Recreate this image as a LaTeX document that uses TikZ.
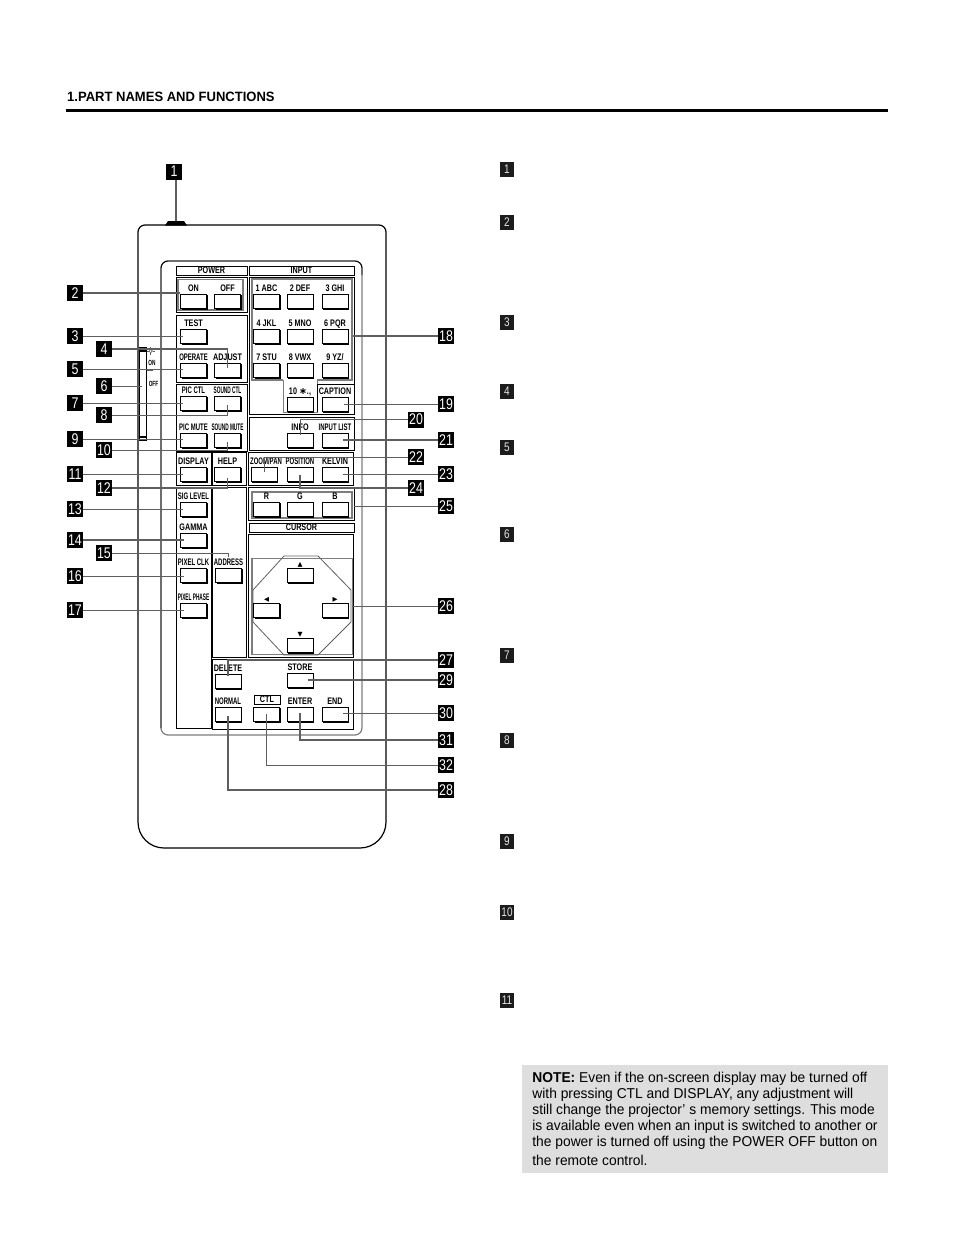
\documentclass[tikz,border=0pt]{standalone}
\usepackage{fontspec}
\setmainfont{Liberation Sans}
\usepackage{tikz}
\usetikzlibrary{shadows, calc}
\usepackage{xcolor}
\definecolor{leadgray}{RGB}{95, 95, 95}
\definecolor{framegray}{RGB}{125, 125, 125}
\definecolor{notegray}{RGB}{222, 222, 222}
\definecolor{markdark}{RGB}{28, 28, 28}
\newfontfamily\keywide[FakeStretch=0.76]{Liberation Sans}
\newfontfamily\keymedium[FakeStretch=0.63]{Liberation Sans}
\newfontfamily\keythin[FakeStretch=0.5]{Liberation Sans}
\newfontfamily\markfont[FakeStretch=0.8]{Liberation Sans}
\newfontfamily\notefont[FakeStretch=0.965]{Liberation Sans}
\newfontfamily\symfont{DejaVu Sans}

\begin{document}
\begin{tikzpicture}[
    x=1pt, y=-1pt,
    panel/.style={rectangle, draw=black, line width=0.9pt, inner sep=0pt},
    titlebox/.style={panel, line width=0.8pt, font=\keywide\bfseries\fontsize{9.5}{9.5}\selectfont},
    key/.style={rectangle, draw=black, fill=white, line width=0.9pt, minimum width=26pt, minimum height=14.5pt, inner sep=0pt,
        general shadow={fill=black, shadow xshift=1.1pt, shadow yshift=-1.1pt}},
    keytext/.style={inner sep=0pt, yshift=2.5pt, text height=7pt, text depth=0pt, font=\keywide\bfseries\fontsize{9.5}{9.5}\selectfont},
    keymid/.style={keytext, font=\keymedium\bfseries\fontsize{9.5}{9.5}\selectfont},
    keynarrow/.style={keytext, font=\keythin\bfseries\fontsize{9.5}{9.5}\selectfont},
    keysym/.style={inner sep=0pt, font=\symfont\fontsize{6.5}{6.5}\selectfont},
    callout/.style={rectangle, fill=black, text=white, minimum width=16pt, minimum height=16pt, inner sep=0pt, font=\markfont\fontsize{15.5}{15.5}\selectfont},
    sidemark/.style={rectangle, fill=markdark, text=white!90!black, minimum width=14.5pt, minimum height=14.5pt, inner sep=0pt, font=\markfont\fontsize{12.5}{12.5}\selectfont},
    lead/.style={draw=leadgray, line width=0.9pt, shorten >=-3pt},
    leadbold/.style={lead, line width=1.6pt},
    ledtext/.style={inner sep=0pt, font=\keymedium\bfseries\fontsize{7.5}{7.5}\selectfont},
]
\useasboundingbox (0,0) rectangle (954,1237);

% Heading
\node[anchor=west, inner sep=0pt, font=\notefont\bfseries\fontsize{13.5}{13.5}\selectfont] (heading) at (67,97) {1.PART NAMES AND FUNCTIONS};
\draw[line width=2.6pt] (66,110.5) -- (888,110.5);

% Remote body
\fill (165,225.5) -- (168,221) -- (184,221) -- (187,225.5) -- cycle;
\draw[line width=1.2pt, rounded corners=26pt] (138,500) -- (138,848) -- (386,848) -- (386,500) [rounded corners=7pt] -- (386,225) -- (138,225) -- cycle;
\draw[draw=framegray, line width=1.2pt, rounded corners=7pt] (161,261) rectangle (362,735);
\draw[line width=0.9pt, rounded corners=7pt] (161,728) -- (161,261) -- (362,261) -- (362,275);

% Indicator strip
\node[panel, minimum width=7.5pt, minimum height=93pt] (strip) at (142.75,393.5) {};
\draw[line width=1.3pt] (strip.west |- 0,351) -- (strip.east |- 0,351);
\draw[line width=1.1pt] (strip.west |- 0,437) -- (strip.east |- 0,437);
\node[circle, draw=leadgray, line width=0.6pt, inner sep=1.2pt] (lamp) at (150.7,351) {};
\draw[leadgray, line width=0.6pt] (lamp.north) -- ++(0,-2) (lamp.east) -- ++(2,0) (lamp.west) -- ++(-2,0) (lamp.south) -- ++(0,2);
\node[ledtext] (ledon) at (152,363) {ON};
\node[ledtext] (ledoff) at (153.5,384) {OFF};
\draw[leadgray, line width=0.8pt] (147,370) -- (153,370);

% Left groups
\node[titlebox, minimum width=71pt, minimum height=9pt] (powertitle) at (211.5,270.5) {POWER};
\node[panel, minimum width=71pt, minimum height=35pt] (powerbox) at (211.5,294.5) {};
\node[draw=framegray, line width=1.5pt, minimum width=65pt, minimum height=30.5pt, inner sep=0pt] (powerframe) at (210.5,294.5) {};
\node[panel, minimum width=71pt, minimum height=67pt] (testbox) at (211.5,348.5) {};
\node[panel, minimum width=71pt, minimum height=67pt] (picbox) at (211.5,417.5) {};
\node[panel, minimum width=35pt, minimum height=33pt] (displaybox) at (193.5,468.5) {};
\node[panel, minimum width=34pt, minimum height=33pt] (helpbox) at (229,468.5) {};
\node[panel, minimum width=35pt, minimum height=241pt] (gammabox) at (193.5,607.5) {};
\node[panel, minimum width=34pt, minimum height=170pt] (addressbox) at (229,572) {};

% Right groups
\node[titlebox, minimum width=105pt, minimum height=9pt] (inputtitle) at (301.5,270.5) {INPUT};
\node[panel, minimum width=105pt, minimum height=137pt] (inputbox) at (301.5,345.5) {};
\draw[framegray, line width=1.5pt] (283,380) -- (252,380) -- (252,279) -- (352,279) -- (352,380) -- (317,380);
\draw[framegray, line width=0.8pt] (283,380) |- (317,412) -- (317,380);
\draw[line width=0.8pt] (317,384) -- (354,384) (317,384) -- (317,412);
\coordinate (inputedge) at (352.5,336);
\node[panel, minimum width=105pt, minimum height=33pt] (infobox) at (301.5,433.5) {};
\node[panel, minimum width=105pt, minimum height=33pt] (zoombox) at (300.5,468.5) {};
\node[panel, minimum width=106pt, minimum height=33pt] (colorbox) at (301,503.5) {};
\node[draw=framegray, line width=1.5pt, minimum width=100pt, minimum height=26pt, inner sep=0pt] (colorframe) at (302,505) {};
\node[titlebox, minimum width=105pt, minimum height=9pt] (cursortitle) at (301.5,527.5) {CURSOR};
\node[panel, minimum width=105.5pt, minimum height=123pt] (cursorbox) at (301,595.5) {};
\node[draw=framegray, line width=0.7pt, minimum width=100pt, minimum height=96pt, inner sep=0pt] (cursorframe) at (302,606) {};
\draw[framegray, line width=1.6pt] (cursorframe.north west) |- (cursorframe.south east);
\draw[leadgray, line width=0.8pt] (284,556) -- (318,556) -- (351,590) -- (351,622) -- (318,655) -- (284,655) -- (253,622) -- (253,590) -- cycle;
\node[panel, minimum width=141pt, minimum height=70pt] (bottombox) at (282.5,694) {};
\node[titlebox, minimum width=26pt, minimum height=9pt] (ctltitle) at (267,699.5) {CTL};

% Power and adjust keys
\node[key, label={[keytext]above:ON}] (on) at (193.5,301.5) {};
\node[key, label={[keytext]above:OFF}] (off) at (227.5,301.5) {};
\node[key, label={[keytext]above:TEST}] (test) at (193.5,336.5) {};
\node[key, label={[keymid]above:OPERATE}] (operate) at (193.5,370.5) {};
\node[key, label={[keytext]above:ADJUST}] (adjust) at (227.5,370.5) {};
\node[key, label={[keymid]above:PIC CTL}] (picctl) at (193.5,403.5) {};
\node[key, label={[keynarrow]above:SOUND CTL}] (soundctl) at (227.5,403.5) {};
\node[key, label={[keymid]above:PIC MUTE}] (picmute) at (193.5,440.5) {};
\node[key, label={[keynarrow]above:SOUND MUTE}] (soundmute) at (227.5,440.5) {};
\node[key, label={[keytext]above:DISPLAY}] (display) at (193.5,474.5) {};
\node[key, label={[keytext]above:HELP}] (help) at (227.5,474.5) {};
\node[key, label={[keymid]above:SIG LEVEL}] (siglevel) at (193.5,509.5) {};
\node[key, label={[keytext]above:GAMMA}] (gamma) at (193.5,540.5) {};
\node[key, label={[keymid]above:PIXEL CLK}] (pixelclk) at (193.5,575.5) {};
\node[key, label={[keynarrow]above:PIXEL PHASE}] (pixelphase) at (193.5,610.5) {};
\node[key, label={[keymid]above:ADDRESS}] (address) at (228.5,575.5) {};

% Input keys
\node[key, label={[keytext]above:1 ABC}] (abc) at (266.5,301.5) {};
\node[key, label={[keytext]above:2 DEF}] (def) at (300,301.5) {};
\node[key, label={[keytext]above:3 GHI}] (ghi) at (335,301.5) {};
\node[key, label={[keytext]above:4 JKL}] (jkl) at (266.5,336.5) {};
\node[key, label={[keytext]above:5 MNO}] (mno) at (300,336.5) {};
\node[key, label={[keytext]above:6 PQR}] (pqr) at (335,336.5) {};
\node[key, label={[keytext]above:7 STU}] (stu) at (266.5,370.5) {};
\node[key, label={[keytext]above:8 VWX}] (vwx) at (300,370.5) {};
\node[key, label={[keytext]above:9 YZ/}] (yz) at (335,370.5) {};
\node[key, label={[keytext]above:{10 {\symfont∗}.,}}] (ten) at (300,404.5) {};
\node[key, label={[keytext]above:CAPTION}] (caption) at (335,404.5) {};
\node[key, label={[keytext]above:INFO}] (info) at (300,440.5) {};
\node[key, label={[keymid]above:INPUT LIST}] (inputlist) at (335,440.5) {};
\node[key, label={[keymid, xshift=2pt]above:ZOOM/PAN}] (zoompan) at (264,474.5) {};
\node[key, label={[keymid]above:POSITION}] (position) at (300,474.5) {};
\node[key, label={[keytext]above:KELVIN}] (kelvin) at (335,474.5) {};
\node[key, label={[keytext]above:R}] (red) at (266.5,509.5) {};
\node[key, label={[keytext]above:G}] (green) at (300,509.5) {};
\node[key, label={[keytext]above:B}] (blue) at (335,509.5) {};

% Cursor keys
\node[key, label={[keysym]above:▲}] (up) at (300,575.5) {};
\node[key, label={[keysym]above:◀}] (left) at (266.5,610.5) {};
\node[key, label={[keysym]above:▶}] (right) at (335,610.5) {};
\node[key, label={[keysym]above:▼}] (down) at (300,645.5) {};

% Bottom keys
\node[key, label={[keytext]above:DELETE}] (delete) at (228,681.5) {};
\node[key, label={[keytext]above:STORE}] (store) at (300,680.5) {};
\node[key, label={[keymid]above:NORMAL}] (normal) at (228,714.5) {};
\node[key] (ctl) at (266.5,714.5) {};
\node[key, label={[keytext]above:ENTER}] (enter) at (300,714.5) {};
\node[key, label={[keytext]above:END}] (end) at (335,714.5) {};

% Left callouts
\node[callout] (n1) at (174,171.5) {1};
\coordinate (plug) at (176,218);
\node[callout] (n2) at (75,293) {2};
\node[callout] (n3) at (75,336) {3};
\node[callout] (n4) at (104,349) {4};
\node[callout] (n5) at (75,369) {5};
\node[callout] (n6) at (104,386) {6};
\node[callout] (n7) at (75,403) {7};
\node[callout] (n8) at (104,415) {8};
\node[callout] (n9) at (75,439) {9};
\node[callout] (n10) at (104,450) {10};
\node[callout] (n11) at (75,474) {11};
\node[callout] (n12) at (104,488) {12};
\node[callout] (n13) at (75,509) {13};
\node[callout] (n14) at (75,540) {14};
\node[callout] (n15) at (104,553) {15};
\node[callout] (n16) at (75,576) {16};
\node[callout] (n17) at (75,610) {17};

% Right callouts
\node[callout] (n18) at (446,336) {18};
\node[callout] (n19) at (446,404) {19};
\node[callout] (n20) at (416,419.5) {20};
\node[callout] (n21) at (446,440) {21};
\node[callout] (n22) at (416,457) {22};
\node[callout] (n23) at (446,474) {23};
\node[callout] (n24) at (416,488) {24};
\node[callout] (n25) at (446,506) {25};
\node[callout] (n26) at (446,606) {26};
\node[callout] (n27) at (446,660) {27};
\node[callout] (n29) at (446,680) {29};
\node[callout] (n30) at (446,713) {30};
\node[callout] (n31) at (446,740) {31};
\node[callout] (n32) at (446,765) {32};
\node[callout] (n28) at (446,790) {28};

% Leads
\draw[lead, line width=1.4pt] (plug |- n1.south) -- (plug);
\draw[leadbold, shorten >=0pt] (n2) -- (n2 -| on.west);
\draw[lead] (n3) -- (n3 -| test.west);
\draw[leadbold, shorten >=-5pt] (n4) -| (adjust.north);
\draw[lead] (n5) -- (n5 -| operate.west);
\draw[lead] (n6) -- (n6 -| strip.west);
\draw[lead] (n7) -- (n7 -| picctl.west);
\draw[lead, shorten >=-6pt] (n8) -| (soundctl.south);
\draw[lead] (n9) -- (n9 -| picmute.west);
\draw[lead, shorten >=-6pt] (n10) -| (soundmute.south);
\draw[lead] (n11) -- (n11 -| display.west);
\draw[leadbold, shorten >=-4pt] (n12) -| (help.south);
\draw[lead] (n13) -- (n13 -| siglevel.west);
\draw[leadbold, shorten >=-4pt] (n14) -- (n14 -| gamma.west);
\draw[lead, shorten >=11pt] (n15) -| (address.north);
\draw[lead, shorten >=-4pt] (n16) -- (n16 -| pixelclk.west);
\draw[lead, shorten >=-4pt] (n17) -- (n17 -| pixelphase.west);
\draw[leadbold, shorten >=0pt] (n18) -- (inputedge);
\draw[lead, shorten >=-4pt] (n19) -- (n19 -| caption.east);
\draw[lead, shorten >=-2pt] (n20) -| (info.north);
\draw[leadbold, shorten >=-5pt] (n21) -- (n21 -| inputlist.east);
\draw[lead, shorten >=-5pt] (n22) -| (zoompan.north);
\draw[lead, shorten >=-5pt] (n23) -- (n23 -| kelvin.east);
\draw[leadbold, shorten >=-7pt] (n24) -| (position.south);
\draw[lead, shorten >=0pt] (n25) -- (n25 -| colorbox.east);
\draw[lead, shorten >=0pt] (n26) -- (n26 -| cursorframe.east);
\draw[leadbold, shorten >=-2pt] (n27) -| (delete.north);
\draw[leadbold, shorten >=-5pt] (n29) -- (n29 -| store.east);
\draw[lead, shorten >=-5pt] (n30) -- (n30 -| end.east);
\draw[leadbold, shorten >=-9pt] (n31) -| (enter.south);
\draw[lead, shorten >=-8pt] (n32) -| (ctl.south);
\draw[leadbold, shorten >=-6pt] (n28) -| (normal.south);

% Numbers of the text column
\node[sidemark] (m1) at (507,169.5) {1};
\node[sidemark] (m2) at (507,222.5) {2};
\node[sidemark] (m3) at (507,322.5) {3};
\node[sidemark] (m4) at (507,391.5) {4};
\node[sidemark] (m5) at (507,447.5) {5};
\node[sidemark] (m6) at (507,534.5) {6};
\node[sidemark] (m7) at (507,655.5) {7};
\node[sidemark] (m8) at (507,740.5) {8};
\node[sidemark] (m9) at (507,841.5) {9};
\node[sidemark] (m10) at (507,912.5) {10};
\node[sidemark] (m11) at (507,1000.5) {11};

% Note
\node[rectangle, fill=notegray, minimum width=366pt, minimum height=108pt, inner sep=0pt, align=left, font=\notefont\fontsize{14.3}{16}\selectfont] (note) at (705,1119) {\textbf{NOTE:} Even if the on-screen display may be turned off\\with pressing CTL and DISPLAY, any adjustment will\\still change the projector’ s memory settings. This mode\\is available even when an input is switched to another or\\the power is turned off using the POWER OFF button on\\[3pt]the remote control.};

\end{tikzpicture}
\end{document}
